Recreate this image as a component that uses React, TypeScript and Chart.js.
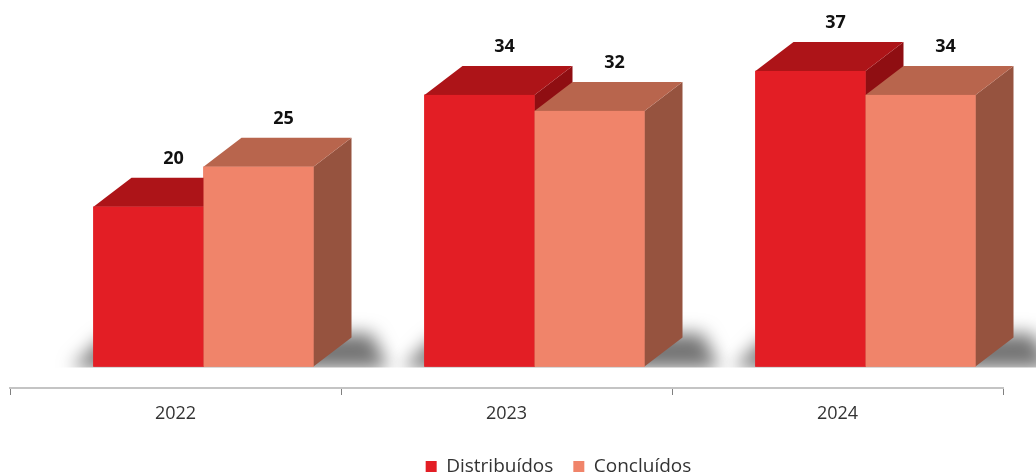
import React, { useEffect, useRef } from 'react';
import { Chart, registerables } from 'chart.js';

Chart.register(...registerables);

const categories = ['2022', '2023', '2024'];
const distribuidos = [20, 34, 37];
const concluidos = [25, 32, 34];
const seriesNames = ['Distribuídos', 'Concluídos'];

const FRONT = ['#E31E25', '#F0846A'];
const TOP = ['#AD1418', '#B8654D'];
const SIDE = ['#8F0E12', '#96533F'];
const DX = 38;
const DY = -29;
const SHIFT = 28 / 331;
const LEGEND_SHIFT = 52;

const bar3d = {
  id: 'bar3d',
  afterLayout(chart: any) {
    if (chart.legend) {
      chart.legend.left += LEGEND_SHIFT;
      chart.legend.right += LEGEND_SHIFT;
    }
  },
  beforeDatasetsDraw(chart: any) {
    const ctx = chart.ctx;
    const m0 = chart.getDatasetMeta(0);
    const m1 = chart.getDatasetMeta(1);
    for (let j = 0; j < m0.data.length; j++) {
      const a = m0.data[j];
      const b = m1.data[j];
      const x0 = a.x - a.width / 2;
      const x1 = b.x + b.width / 2;
      const base = a.base;
      const off = 5000;
      ctx.save();
      ctx.beginPath();
      ctx.rect(0, 0, chart.width, base + 1);
      ctx.clip();
      ctx.shadowColor = 'rgba(0,0,0,0.55)';
      ctx.shadowBlur = 18;
      ctx.shadowOffsetX = off;
      ctx.fillStyle = '#000';
      ctx.beginPath();
      ctx.moveTo(x0 - 22 - off, base + 2);
      ctx.lineTo(x1 + 75 - off, base + 2);
      ctx.lineTo(x1 + DX + 20 - off, base + DY - 4);
      ctx.lineTo(x0 + 10 - off, base + DY);
      ctx.closePath();
      ctx.fill();
      ctx.restore();
    }
  },
  afterDatasetsDraw(chart: any) {
    const ctx = chart.ctx;
    const metas = [chart.getDatasetMeta(0), chart.getDatasetMeta(1)];
    const n = metas[0].data.length;
    for (let j = 0; j < n; j++) {
      for (let d = 0; d < 2; d++) {
        const el = metas[d].data[j];
        const l = el.x - el.width / 2;
        const r = el.x + el.width / 2;
        const t = el.y;
        const b = el.base;
        ctx.save();
        ctx.fillStyle = SIDE[d];
        ctx.beginPath();
        ctx.moveTo(r, t);
        ctx.lineTo(r + DX, t + DY);
        ctx.lineTo(r + DX, b + DY);
        ctx.lineTo(r, b);
        ctx.closePath();
        ctx.fill();
        ctx.fillStyle = TOP[d];
        ctx.beginPath();
        ctx.moveTo(l, t);
        ctx.lineTo(l + DX, t + DY);
        ctx.lineTo(r + DX, t + DY);
        ctx.lineTo(r, t);
        ctx.closePath();
        ctx.fill();
        ctx.fillStyle = FRONT[d];
        ctx.fillRect(l, t, r - l, b - t);
        ctx.restore();
      }
    }
    ctx.save();
    ctx.font = 'bold 18px "Open Sans", sans-serif';
    ctx.fillStyle = '#111111';
    ctx.textAlign = 'center';
    ctx.textBaseline = 'middle';
    for (let d = 0; d < 2; d++) {
      const ds = chart.data.datasets[d];
      metas[d].data.forEach((el: any, j: number) => {
        ctx.fillText(String(ds.data[j]), el.x + 25, el.y + DY - 19);
      });
    }
    ctx.restore();
  },
};

export default function App() {
  const ref = useRef<HTMLCanvasElement | null>(null);
  useEffect(() => {
    if (!ref.current) return;
    const chart = new Chart(ref.current, {
      type: 'bar',
      data: {
        labels: categories,
        datasets: [
          {
            label: seriesNames[0],
            data: distribuidos,
            backgroundColor: FRONT[0],
            xAxisID: 'xb',
            barThickness: 110,
          },
          {
            label: seriesNames[1],
            data: concluidos,
            backgroundColor: FRONT[1],
            xAxisID: 'xb',
            barThickness: 110,
          },
        ],
      },
      options: {
        animation: false,
        responsive: false,
        layout: { padding: { left: 10, right: 33, top: 47, bottom: -12 } },
        plugins: {
          tooltip: { enabled: false },
          legend: {
            position: 'bottom',
            labels: {
              boxWidth: 11,
              boxHeight: 11,
              padding: 20,
              color: '#333333',
              font: { family: '"Open Sans", sans-serif', size: 19 },
            },
          },
        },
        scales: {
          x: {
            type: 'category',
            offset: true,
            grid: {
              offset: true,
              drawOnChartArea: false,
              drawTicks: true,
              tickLength: 7,
              color: '#808080',
              lineWidth: 1,
            },
            border: { display: true, color: '#C4C4C4', width: 2 },
            ticks: {
              color: '#333333',
              padding: 8,
              font: { family: '"Open Sans", sans-serif', size: 18 },
            },
            afterFit: (s: any) => {
              s.height = 49;
            },
          },
          xb: {
            type: 'linear',
            display: false,
            offset: false,
            min: 2021.5 - SHIFT,
            max: 2024.5 - SHIFT,
          },
          y: { display: false, min: -2.7, max: 40 },
        },
      },
      plugins: [bar3d],
    } as any);
    return () => chart.destroy();
  }, []);
  return (
    <div style={{ position: 'absolute', left: 0, top: 0, width: 1036, height: 474, background: '#fff' }}>
      <canvas ref={ref} width={1036} height={474} style={{ width: 1036, height: 474, display: 'block' }} />
    </div>
  );
}
